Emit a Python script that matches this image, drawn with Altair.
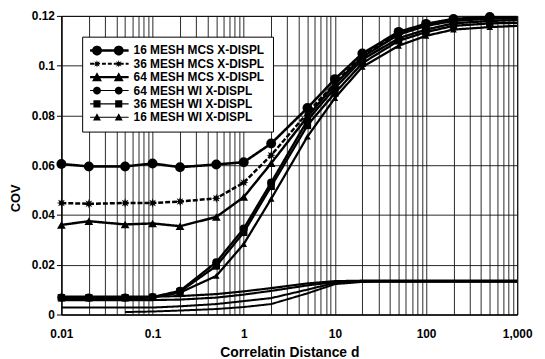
import math
import altair as alt
import pandas as pd

# ---------------- data ----------------
d_values = [0.01, 0.02, 0.05, 0.1, 0.2, 0.5, 1, 2, 5, 10, 20, 50, 100, 200, 500, 1000]

series_names = [
    "16 MESH MCS X-DISPL",
    "36 MESH MCS X-DISPL",
    "64 MESH MCS X-DISPL",
    "64 MESH WI X-DISPL",
    "36 MESH WI X-DISPL",
    "16 MESH WI X-DISPL",
]

cov_16_mcs = [0.0605, 0.0595, 0.0595, 0.0607, 0.0592, 0.0603, 0.0612, 0.0687, 0.0830, 0.0946, 0.1049, 0.1136, 0.1168, 0.1188, 0.1196, 0.1197]
cov_36_mcs = [0.0448, 0.0445, 0.0448, 0.0448, 0.0454, 0.0467, 0.0530, 0.0640, 0.0810, 0.0930, 0.1040, 0.1130, 0.1165, 0.1185, 0.1193, 0.1195]
cov_64_mcs = [0.0360, 0.0375, 0.0362, 0.0366, 0.0355, 0.0392, 0.0472, 0.0608, 0.0795, 0.0925, 0.1035, 0.1125, 0.1160, 0.1180, 0.1189, 0.1190]
cov_64_wi = [0.0068, 0.0068, 0.0068, 0.0070, 0.0095, 0.0210, 0.0345, 0.0530, 0.0780, 0.0910, 0.1025, 0.1110, 0.1145, 0.1170, 0.1180, 0.1183]
cov_36_wi = [0.0067, 0.0067, 0.0067, 0.0069, 0.0092, 0.0195, 0.0330, 0.0515, 0.0760, 0.0890, 0.1010, 0.1100, 0.1135, 0.1160, 0.1170, 0.1172]
cov_16_wi = [0.0066, 0.0066, 0.0066, 0.0068, 0.0088, 0.0155, 0.0283, 0.0465, 0.0715, 0.0870, 0.0995, 0.1080, 0.1120, 0.1145, 0.1155, 0.1160]

# unlabelled curves near the bottom (not in the legend)
extra_names = ["extra A", "extra B", "extra C", "extra D"]
cov_extra_a = [0.0072, 0.0072, 0.0072, 0.0072, 0.0074, 0.0082, 0.0093, 0.0106, 0.0125, 0.0134, 0.0136, 0.0136, 0.0136, 0.0136, 0.0136, 0.0136]
cov_extra_b = [0.0058, 0.0058, 0.0058, 0.0058, 0.0060, 0.0068, 0.0080, 0.0095, 0.0117, 0.0130, 0.0134, 0.0134, 0.0134, 0.0134, 0.0134, 0.0134]
cov_extra_c = [0.0028, 0.0028, 0.0028, 0.0028, 0.0033, 0.0042, 0.0054, 0.0066, 0.0100, 0.0127, 0.0132, 0.0133, 0.0133, 0.0133, 0.0133, 0.0133]
cov_extra_d = [None, None, 0.0010, 0.0012, 0.0016, 0.0022, 0.0030, 0.0042, 0.0085, 0.0122, 0.0131, 0.0132, 0.0132, 0.0132, 0.0132, 0.0132]

x_label_values = [0.01, 0.1, 1, 10, 100, 1000]
y_tick_values = [0, 0.02, 0.04, 0.06, 0.08, 0.1, 0.12]

main_series = [cov_16_mcs, cov_36_mcs, cov_64_mcs, cov_64_wi, cov_36_wi, cov_16_wi]
extra_series = [cov_extra_a, cov_extra_b, cov_extra_c, cov_extra_d]

rows = []
for name, vals in zip(series_names + extra_names, main_series + extra_series):
    for d, v in zip(d_values, vals):
        rows.append({"d": d, "cov": v, "series": name})
df = pd.DataFrame(rows)

# ---------------- styles ----------------
FONT = "Liberation Sans"
all_names = series_names + extra_names
line_widths = [2.6, 2.0, 2.0, 1.0, 1.0, 1.0, 2.6, 1.6, 1.2, 1.2]
line_dashes = [[1, 0], [5, 2], [1, 0], [1, 0], [1, 0], [1, 0], [1, 0], [1, 0], [1, 0], [1, 0]]


def poly(pts):
    return "M" + "L".join(f"{x:.3f},{y:.3f}" for x, y in pts) + "Z"


def star_unit():
    pts = []
    for i in range(16):
        a = -math.pi / 2 + i * math.pi / 8
        r = 1.0 if i % 2 == 0 else 0.45
        pts.append((r * math.cos(a), r * math.sin(a)))
    return poly(pts)


marker_shapes = ["circle", star_unit(), "triangle-up", "circle", "square", "triangle-up"]
marker_sizes = [100, 45, 85, 64, 50, 45]

# legend glyphs: a line segment with two markers, built in px and scaled to units
U = 6.0  # px per unit when symbolSize = 144


def p(x, y):
    return (x / U, y / U)


def g_rect(x0, x1, h):
    return poly([p(x0, -h / 2), p(x1, -h / 2), p(x1, h / 2), p(x0, h / 2)])


def g_circle(cx, r, n=18):
    return poly([p(cx + r * math.cos(2 * math.pi * i / n), r * math.sin(2 * math.pi * i / n)) for i in range(n)])


def g_tri(cx, r):
    return poly([p(cx, -r), p(cx + r, r * 0.8), p(cx - r, r * 0.8)])


def g_square(cx, r):
    return poly([p(cx - r, -r), p(cx + r, -r), p(cx + r, r), p(cx - r, r)])


def g_star(cx, r):
    pts = []
    for i in range(16):
        a = -math.pi / 2 + i * math.pi / 8
        rr = r if i % 2 == 0 else r * 0.45
        pts.append(p(cx + rr * math.cos(a), rr * math.sin(a)))
    return poly(pts)


L0, L1 = -6, 33
M1, M2 = 1, 23


def g_dashed(h):
    out = ""
    x = L0
    while x < L1:
        out += g_rect(x, min(x + 4, L1), h)
        x += 6
    return out


legend_paths = [
    g_rect(L0, L1, 2.6) + g_circle(M1, 5) + g_circle(M2, 5),
    g_dashed(2.0) + g_star(M1, 3.8) + g_star(M2, 3.8),
    g_rect(L0, L1, 2.2) + g_tri(M1, 5) + g_tri(M2, 5),
    g_rect(L0, L1, 1.1) + g_circle(M1, 4) + g_circle(M2, 4),
    g_rect(L0, L1, 1.1) + g_square(M1, 3.6) + g_square(M2, 3.6),
    g_rect(L0, L1, 1.1) + g_tri(M1, 4) + g_tri(M2, 4),
]

x_grid_values = [round(k * 10 ** e, 6) for e in range(-2, 3) for k in range(1, 10)] + [1000]
label_list = ",".join(str(v) for v in x_label_values)

x_enc = alt.X(
    "d:Q",
    scale=alt.Scale(type="log", domain=[0.01, 1000], nice=False),
    axis=alt.Axis(
        values=x_grid_values,
        labelExpr=f"indexof([{label_list}], datum.value) >= 0 ? format(datum.value, ',') : ''",
        title="Correlatin Distance d",
        grid=True, gridColor="#111", gridWidth=0.9,
        ticks=False, labelPadding=14,
        labelFont=FONT, labelFontSize=12, labelFontWeight="bold", labelColor="black",
        labelOverlap=False, labelFlush=False,
        titleFont=FONT, titleFontSize=14, titleFontWeight="bold", titleColor="black",
        titlePadding=6,
        domainColor="black",
    ),
)
y_enc = alt.Y(
    "cov:Q",
    scale=alt.Scale(domain=[0, 0.12], nice=False, zero=False),
    axis=alt.Axis(
        values=y_tick_values,
        labelExpr="format(datum.value, '.2~f')",
        title="COV",
        grid=True, gridColor="#111", gridWidth=0.9,
        tickSize=5, tickColor="black", labelPadding=2,
        labelFont=FONT, labelFontSize=12, labelFontWeight="bold", labelColor="black",
        labelOverlap=False, labelFlush=False,
        titleFont=FONT, titleFontSize=13, titleFontWeight="bold", titleColor="black",
        titleX=-46, titleY=184, titleAlign="center", titleBaseline="middle",
        domainColor="black",
    ),
)

lines = alt.Chart(df).mark_line(color="black", clip=True).encode(
    x=x_enc,
    y=y_enc,
    detail="series:N",
    strokeWidth=alt.StrokeWidth("series:N", scale=alt.Scale(domain=all_names, range=line_widths), legend=None),
    strokeDash=alt.StrokeDash("series:N", scale=alt.Scale(domain=all_names, range=line_dashes), legend=None),
)

points = alt.Chart(df).transform_filter(
    alt.FieldOneOfPredicate(field="series", oneOf=series_names)
).transform_filter(
    alt.datum.d <= 500
).mark_point(filled=True, color="black", opacity=1).encode(
    x=alt.X("d:Q"),
    y=alt.Y("cov:Q"),
    shape=alt.Shape("series:N", scale=alt.Scale(domain=series_names, range=marker_shapes), legend=None),
    size=alt.Size("series:N", scale=alt.Scale(domain=series_names, range=marker_sizes), legend=None),
)

legend_df = pd.DataFrame({"series": series_names})
legend_layer = alt.Chart(legend_df).mark_point(filled=True, color="black", opacity=0).encode(
    shape=alt.Shape(
        "series:N",
        scale=alt.Scale(domain=series_names, range=legend_paths),
        legend=alt.Legend(
            orient="none", legendX=21, legendY=21, title=None,
            symbolSize=144, symbolOpacity=1, symbolFillColor="black",
            symbolStrokeColor="black", symbolStrokeWidth=0,
            labelFont=FONT, labelFontSize=12, labelFontWeight="bold", labelColor="black",
            labelOffset=32, rowPadding=1.5, padding=8,
            strokeColor="black", fillColor="white",
        ),
    ),
)

chart = alt.layer(lines, points, legend_layer).resolve_scale(
    shape="independent"
).properties(
    width=461,
    height=302,
    autosize=alt.AutoSizeParams(type="none"),
    padding={"left": 54, "top": 6, "right": 20, "bottom": 43},
    background="white",
).configure_view(stroke="black", strokeWidth=1)

chart.save("out.html", embed_options={"renderer": "svg", "actions": False})
